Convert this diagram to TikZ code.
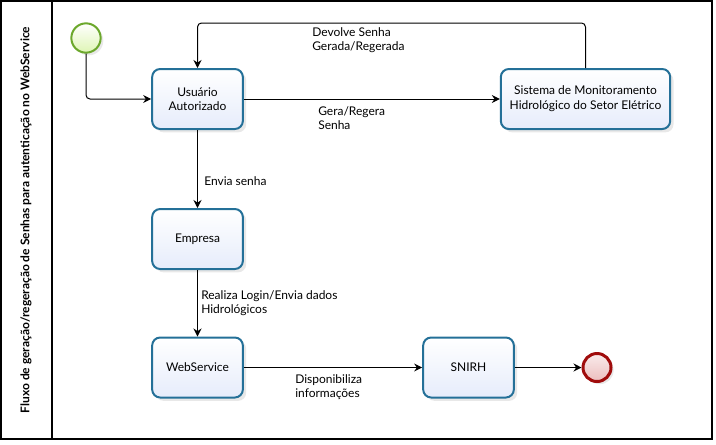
\documentclass[tikz,border=0pt]{standalone}
\usepackage{fontspec}
\setmainfont{Lato}
\usetikzlibrary{arrows.meta}
\usetikzlibrary{positioning}
\usetikzlibrary{shadows}
\definecolor{taskblue}{RGB}{36,112,152}
\definecolor{taskfill}{RGB}{230,236,251}
\definecolor{startgreen}{RGB}{108,168,44}
\definecolor{startfill}{RGB}{222,245,180}
\definecolor{endred}{RGB}{160,12,12}
\definecolor{endfill}{RGB}{236,190,190}

\begin{document}
\begin{tikzpicture}[x=0.75pt, y=-0.75pt, font=\fontsize{9}{11}\selectfont,
  task/.style={draw=taskblue, line width=1.5pt, rounded corners=6pt,
    top color=white, bottom color=taskfill, minimum width=68pt,
    minimum height=45pt, align=center,
    drop shadow={shadow xshift=2.5pt, shadow yshift=-2.5pt, opacity=0.18}},
  startevent/.style={circle, draw=startgreen, line width=1.5pt, minimum size=22pt,
    inner sep=0pt, top color=white, bottom color=startfill,
    drop shadow={shadow xshift=2pt, shadow yshift=-2pt, opacity=0.18}},
  endevent/.style={circle, draw=endred, line width=2.25pt, minimum size=21pt,
    inner sep=0pt, top color=endfill!30, bottom color=endfill,
    drop shadow={shadow xshift=2pt, shadow yshift=-2pt, opacity=0.18}},
  flow/.style={-{Stealth[length=6pt, width=6pt, inset=2pt]}, line width=0.75pt},
  tag/.style={anchor=north west, inner sep=0pt, align=left}]

\useasboundingbox (0,0) rectangle (716,444);

% pool and lane
\draw[line width=0.9pt] (1,1) rectangle (712,439);
\draw[line width=0.9pt] (52,1) -- (52,439);
\node[rotate=90, font=\fontsize{9}{11}\selectfont\bfseries] (lane) at (26,220)
  {Fluxo de geração/regeração de Senhas para autenticação no WebService};

% events and tasks
\node[startevent] (begin) at (86,38) {};
\node[task] (user) at (197.5,99) {Usuário\\Autorizado};
\node[task, minimum width=127pt] (sys) at (585.5,99) {Sistema de Monitoramento\\Hidrológico do Setor Elétrico};
\node[task] (company) at (197.5,239) {Empresa};
\node[task] (ws) at (197.5,367.5) {WebService};
\node[task] (snirh) at (468.5,367.5) {SNIRH};
\node[endevent] (finish) at (597,367.5) {};

% flows
\draw[flow, rounded corners=3pt] (begin) |- (user);
\draw[flow] (user) -- (sys);
\draw[flow, rounded corners=3pt] (sys.north) -- ++(0,-45) -| (user.north);
\draw[flow] (user) -- (company);
\draw[flow] (company) -- (ws);
\draw[flow] (ws) -- (snirh);
\draw[flow] (snirh) -- (finish);

% flow labels
\node[tag] (l1) at (318,106) {Gera/Regera\\Senha};
\node[tag] (l2) at (312,27) {Devolve Senha\\Gerada/Regerada};
\node[tag] (l3) at (204,176) {Envia senha};
\node[tag] (l4) at (201,290) {Realiza Login/Envia dados\\Hidrológicos};
\node[tag] (l5) at (295,374) {Disponibiliza\\informações};

\end{tikzpicture}
\end{document}
